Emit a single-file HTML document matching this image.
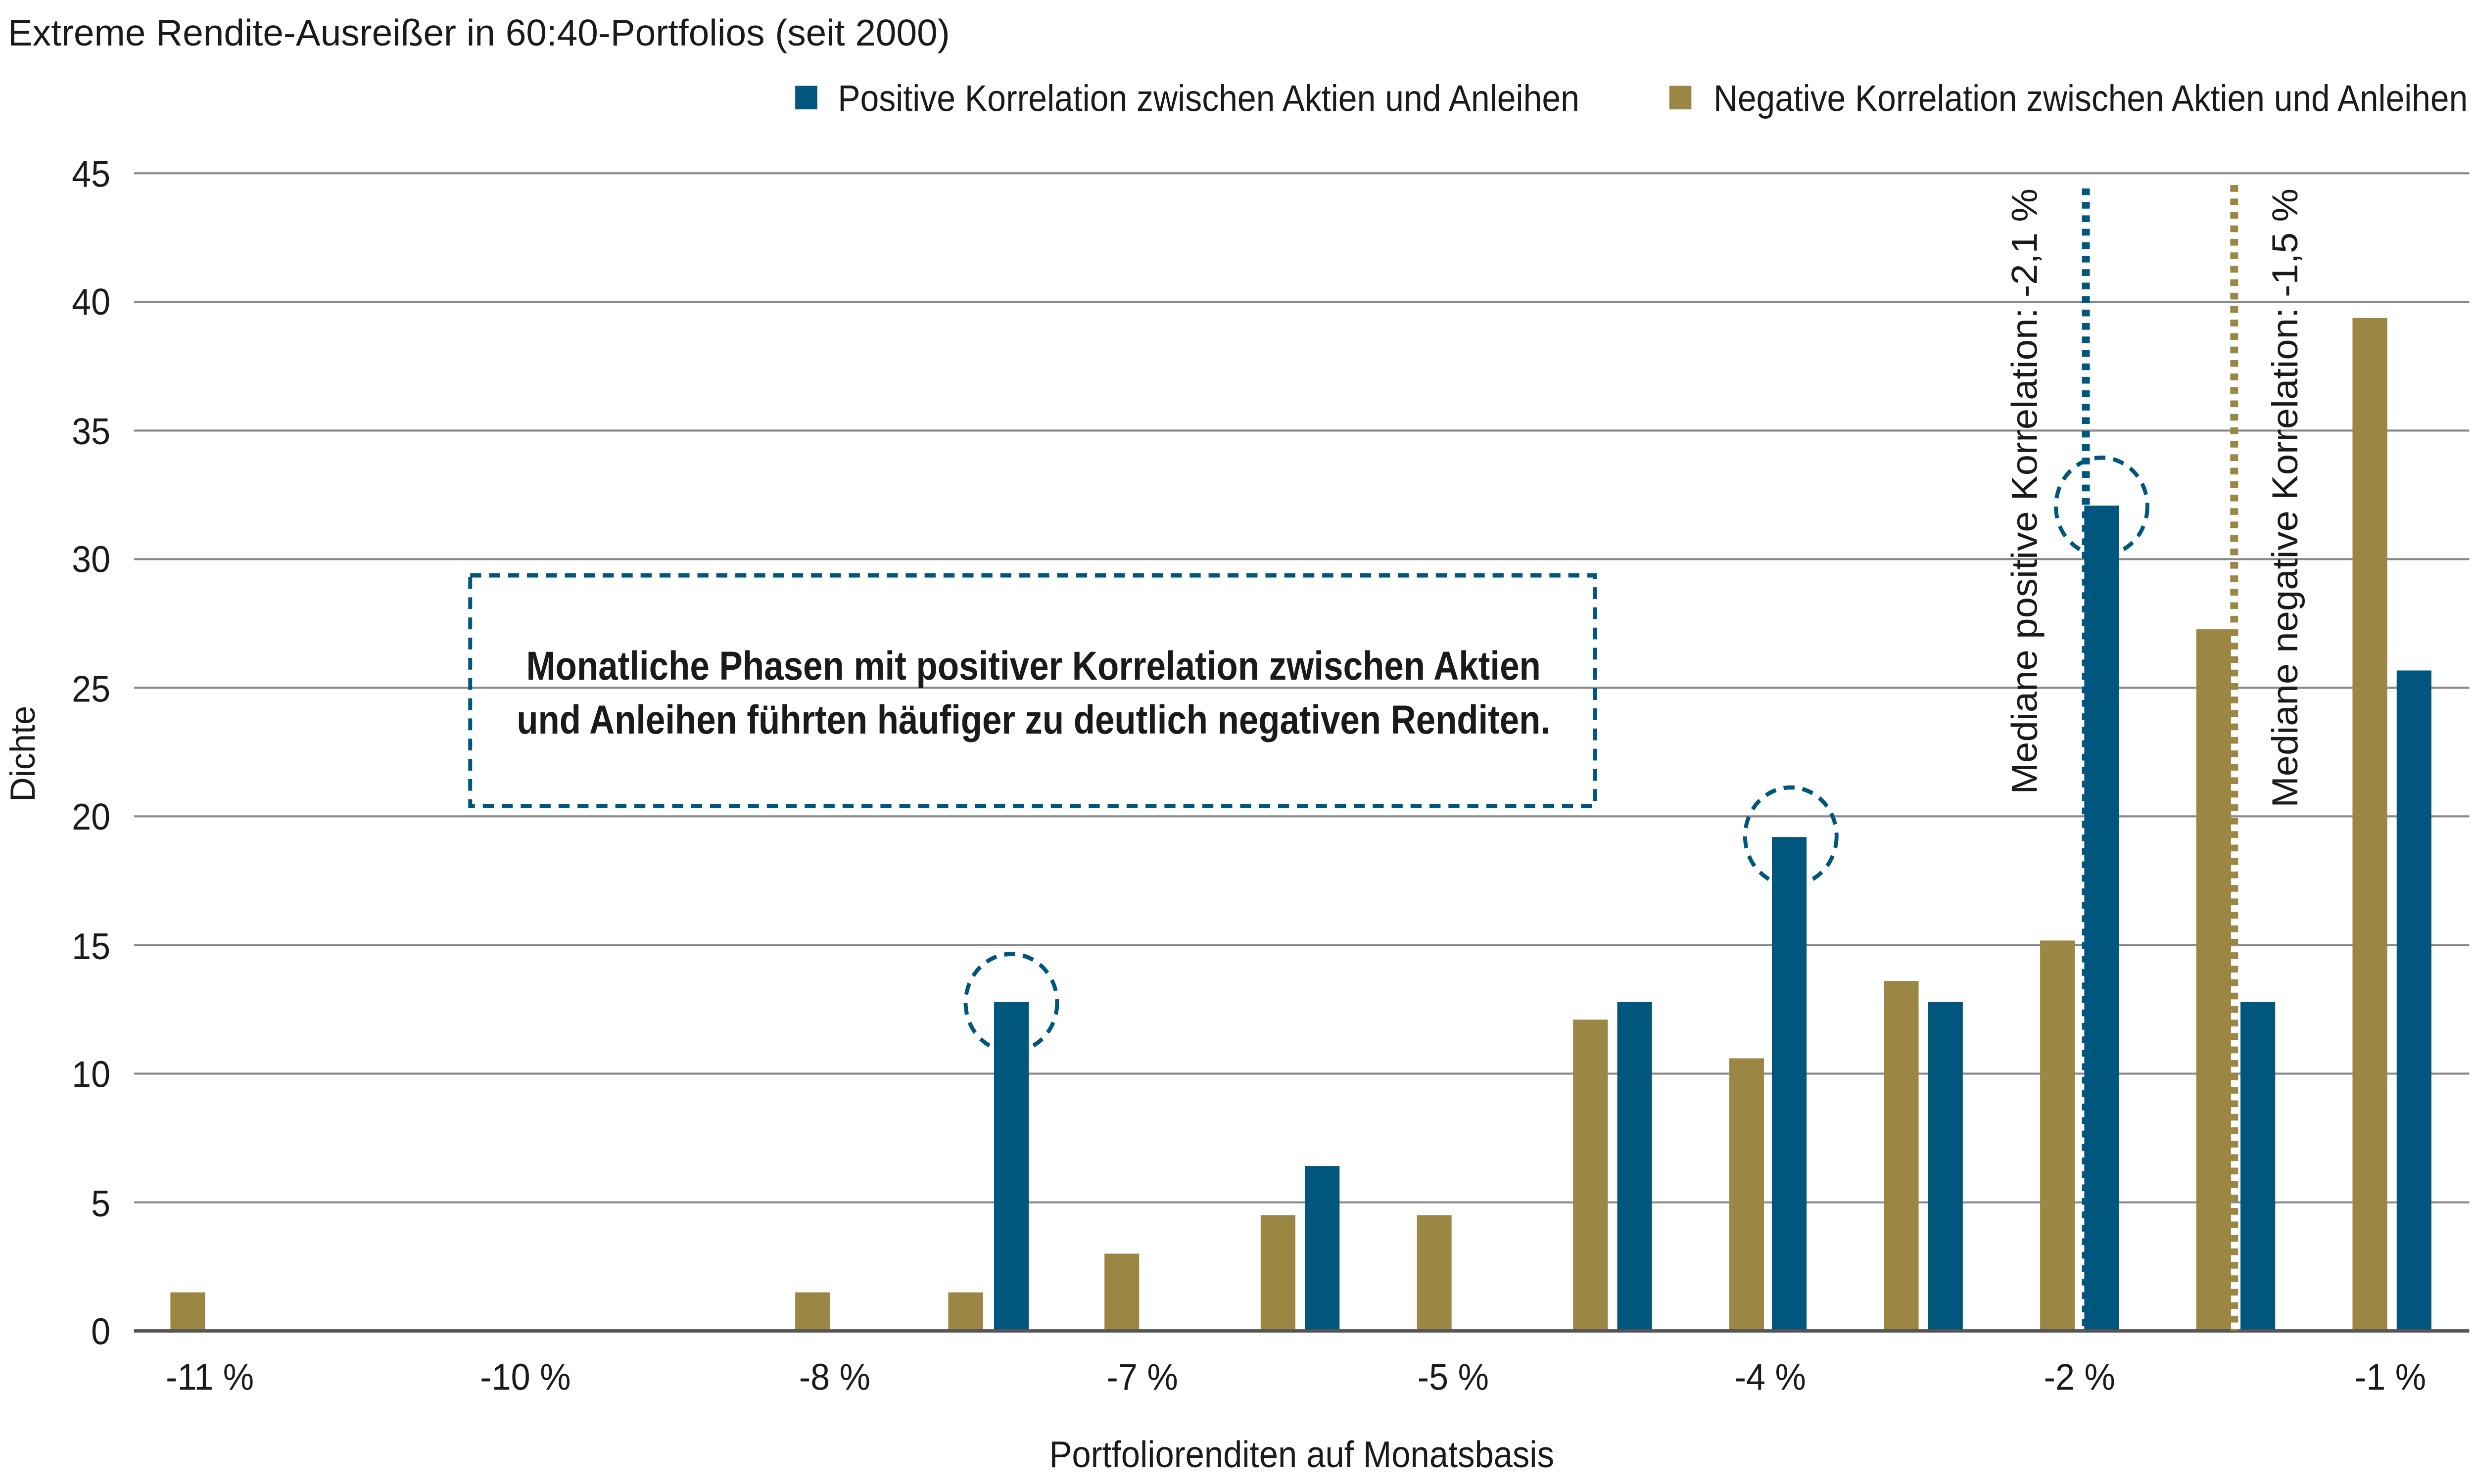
<!DOCTYPE html>
<html><head><meta charset="utf-8"><style>
html,body{margin:0;padding:0;background:#fff;width:100%;height:100%;overflow:hidden;}
svg{display:block;width:100vw;height:100vh;}
text{font-family:"Liberation Sans Narrow","Liberation Sans",sans-serif;fill:#1a1a1a;}
</style></head><body>
<svg viewBox="0 0 1568 882" preserveAspectRatio="none" xmlns="http://www.w3.org/2000/svg">
<rect width="1568" height="882" fill="#fff"/>
<text x="5" y="27" font-size="22" textLength="597" lengthAdjust="spacingAndGlyphs">Extreme Rendite-Ausreißer in 60:40-Portfolios (seit 2000)</text>
<rect x="504" y="51" width="14" height="14" fill="#00567d"/>
<text x="531" y="66" font-size="22" fill="#333" textLength="470" lengthAdjust="spacingAndGlyphs">Positive Korrelation zwischen Aktien und Anleihen</text>
<rect x="1058" y="51" width="14" height="14" fill="#9b8643"/>
<text x="1086" y="66" font-size="22" fill="#333" textLength="478" lengthAdjust="spacingAndGlyphs">Negative Korrelation zwischen Aktien und Anleihen</text>
<g stroke="#888" stroke-width="1.2">
<line x1="85" x2="1565" y1="103" y2="103"/><line x1="85" x2="1565" y1="179.4" y2="179.4"/>
<line x1="85" x2="1565" y1="255.9" y2="255.9"/><line x1="85" x2="1565" y1="332.3" y2="332.3"/>
<line x1="85" x2="1565" y1="408.8" y2="408.8"/><line x1="85" x2="1565" y1="485.2" y2="485.2"/>
<line x1="85" x2="1565" y1="561.7" y2="561.7"/><line x1="85" x2="1565" y1="638.1" y2="638.1"/>
<line x1="85" x2="1565" y1="714.6" y2="714.6"/>
</g>
<g font-size="22" fill="#333" text-anchor="end">
<text x="70" y="111">45</text><text x="70" y="187">40</text><text x="70" y="264">35</text>
<text x="70" y="340">30</text><text x="70" y="417">25</text><text x="70" y="493">20</text>
<text x="70" y="570">15</text><text x="70" y="646">10</text><text x="70" y="723">5</text>
<text x="70" y="799">0</text>
</g>
<text transform="translate(22,448) rotate(-90)" font-size="22" text-anchor="middle" textLength="57" lengthAdjust="spacingAndGlyphs">Dichte</text>
<g fill="#9b8643">
<rect x="108" y="768.1" width="22" height="22.9"/>
<rect x="504" y="768.1" width="22" height="22.9"/>
<rect x="601" y="768.1" width="22" height="22.9"/>
<rect x="700" y="745.1" width="22" height="45.9"/>
<rect x="799" y="722.2" width="22" height="68.8"/>
<rect x="898" y="722.2" width="22" height="68.8"/>
<rect x="997" y="606" width="22" height="185"/>
<rect x="1096" y="629" width="22" height="162"/>
<rect x="1194" y="583" width="22" height="208"/>
<rect x="1293" y="559" width="22" height="232"/>
<rect x="1392" y="374" width="22" height="417"/>
<rect x="1491" y="189" width="22" height="602"/>
</g>
<g fill="#00567d">
<rect x="630" y="595.5" width="22" height="195.5"/>
<rect x="827" y="693" width="22" height="98"/>
<rect x="1025" y="595.5" width="22" height="195.5"/>
<rect x="1123" y="497.5" width="22" height="293.5"/>
<rect x="1222" y="595.5" width="22" height="195.5"/>
<rect x="1321" y="300.5" width="22" height="490.5"/>
<rect x="1420" y="595.5" width="22" height="195.5"/>
<rect x="1519" y="398.5" width="22" height="392.5"/>
</g>
<line x1="85" x2="1565" y1="791" y2="791" stroke="#555" stroke-width="2"/>
<line x1="1322" x2="1322" y1="112" y2="791" stroke="#00567d" stroke-width="5" stroke-dasharray="4,4"/>
<line x1="1416" x2="1416" y1="110" y2="791" stroke="#9b8643" stroke-width="5" stroke-dasharray="4,4"/>
<g fill="none" stroke="#00567d" stroke-width="2.5" stroke-dasharray="7,5">
<circle cx="641" cy="596" r="29"/>
<circle cx="1135" cy="497" r="29"/>
<circle cx="1332" cy="301" r="29"/>
<rect x="298" y="342" width="713" height="137"/>
</g>
<text x="655" y="404" font-size="24" font-weight="bold" text-anchor="middle" fill="#111" textLength="643" lengthAdjust="spacingAndGlyphs">Monatliche Phasen mit positiver Korrelation zwischen Aktien</text>
<text x="655" y="436" font-size="24" font-weight="bold" text-anchor="middle" fill="#111" textLength="655" lengthAdjust="spacingAndGlyphs">und Anleihen führten häufiger zu deutlich negativen Renditen.</text>
<text transform="translate(1291,472) rotate(-90)" font-size="23" fill="#111" textLength="360" lengthAdjust="spacingAndGlyphs">Mediane positive Korrelation: -2,1 %</text>
<text transform="translate(1456,480) rotate(-90)" font-size="23" fill="#111" textLength="368" lengthAdjust="spacingAndGlyphs">Mediane negative Korrelation: -1,5 %</text>
<g font-size="22" fill="#333" text-anchor="middle">
<text x="133" y="826">-11 %</text><text x="333" y="826">-10 %</text><text x="529" y="826">-8 %</text>
<text x="724" y="826">-7 %</text><text x="921" y="826">-5 %</text><text x="1122" y="826">-4 %</text>
<text x="1318" y="826">-2 %</text><text x="1515" y="826">-1 %</text>
</g>
<text x="825" y="872" font-size="22" text-anchor="middle" textLength="320" lengthAdjust="spacingAndGlyphs">Portfoliorenditen auf Monatsbasis</text>
</svg>
</body></html>
